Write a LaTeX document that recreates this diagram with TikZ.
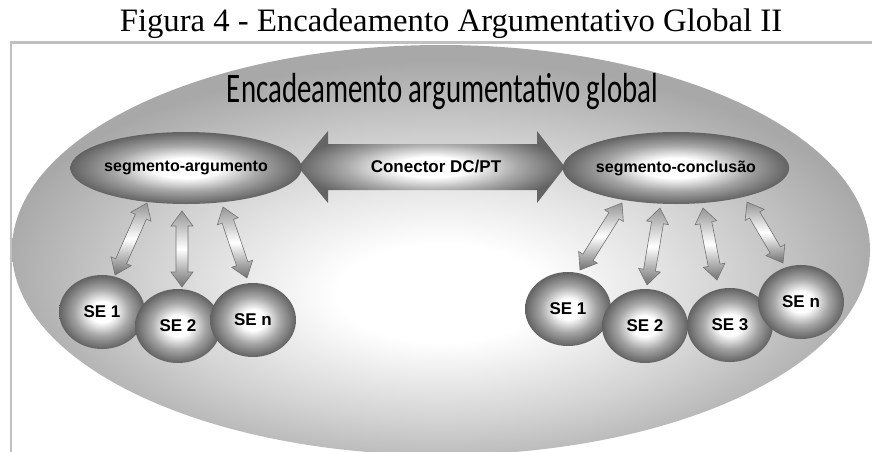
\documentclass[tikz,border=0pt]{standalone}
\usepackage{fontspec}
\setmainfont{Liberation Serif}
\newfontfamily\lsans{Liberation Sans}
\newfontfamily\carl{Carlito}
\usetikzlibrary{calc,shapes.geometric}
\definecolor{framegray}{RGB}{192,192,192}
\definecolor{bigedge}{RGB}{168,168,168}
\definecolor{bigmid}{RGB}{210,210,210}
\definecolor{sphedge}{RGB}{98,98,98}
\definecolor{sphmid}{RGB}{165,165,165}
\definecolor{connedge}{RGB}{100,100,100}
\definecolor{connmid}{RGB}{170,170,170}
\definecolor{arrdark}{RGB}{112,112,112}
\definecolor{arrlight}{RGB}{150,150,150}
\definecolor{arrline}{RGB}{115,115,115}
\pgfdeclareradialshading{bigshade}{\pgfpoint{0bp}{-6bp}}{color(0bp)=(white); color(6bp)=(white); color(17bp)=(bigmid); color(26bp)=(bigedge); color(50bp)=(bigedge)}
\pgfdeclareradialshading{sphere}{\pgfpoint{0bp}{0bp}}{color(0bp)=(white); color(7bp)=(white); color(16bp)=(sphmid); color(25bp)=(sphedge); color(50bp)=(sphedge)}
\pgfdeclareradialshading{connshade}{\pgfpoint{0bp}{0bp}}{color(0bp)=(white); color(7bp)=(white); color(16bp)=(connmid); color(25bp)=(connedge); color(50bp)=(connedge)}
\tikzset{
  sphnode/.style={ellipse, shade, shading=sphere, minimum width=86pt, minimum height=74pt, inner sep=0pt,
    font=\lsans\bfseries\fontsize{17}{20}\selectfont},
  segnode/.style={ellipse, shade, shading=sphere, minimum width=206pt, minimum height=72pt, inner sep=0pt,
    font=\lsans\bfseries\fontsize{16}{19}\selectfont},
  smallarrow/.style={draw=arrline, line width=0.6pt, top color=arrlight, bottom color=arrdark, middle color=white},
  connarrow/.style={shade, shading=connshade},
  dblarr/.pic={
    \pgfmathsetmacro\arrL{#1}
    \path[smallarrow] (0,0) -- (15,11) -- (15,6) -- (\arrL-15,6) -- (\arrL-15,11) -- (\arrL,0)
      -- (\arrL-15,-11) -- (\arrL-15,-6) -- (15,-6) -- (15,-11) -- cycle;
  }
}
\newcommand\linkarrow[2]{\path let \p1=(#1), \p2=(#2), \n1={atan2(\y2-\y1,\x2-\x1)},
  \n2={veclen(\x2-\x1,\y2-\y1)} in (#1) pic[rotate=\n1] {dblarr=\n2};}
\begin{document}
\begin{tikzpicture}[x=1pt,y=1pt]
\useasboundingbox (0,0) rectangle (872,-452);
\draw[framegray, line width=2.2pt] (11,-452) -- (11,-42.5) -- (872,-42.5);
\node[ellipse, shade, shading=bigshade, minimum width=858pt, minimum height=410pt, inner sep=0pt] (outer) at (441,-250) {};
\node[anchor=base, inner sep=0pt, font=\fontsize{32.7}{36}\selectfont] (caption) at (451,-32) {Figura 4 - Encadeamento Argumentativo Global II};
\node[anchor=base, inner sep=0pt] (maintitle) at (442.5,-102) {\resizebox{431pt}{1.45\height}{\carl\fontsize{29}{32}\selectfont Encadeamento argumentativo global}};
% connector
\coordinate (ca) at (298,-167);
\coordinate (cb) at (565,-167);
\path[connarrow] (ca) -- ++(30,36) -- ++(0,-13) -- ($(cb)+(-28,23)$) -- ++(0,13) -- (cb)
  -- ++(-28,-36) -- ++(0,13) -- ($(ca)+(30,-23)$) -- ++(0,-13) -- cycle;
\node[font=\lsans\bfseries\fontsize{17}{20}\selectfont] (conlabel) at (436,-167) {Conector DC/PT};
% segments
\node[segnode] (sa) at (186,-168) {segmento-argumento};
\node[segnode] (sc) at (676,-168) {segmento-conclusão};
% spheres left
\node[sphnode] (l1) at (102,-312) {SE 1};
\node[sphnode] (l2) at (178,-326) {SE 2};
\node[sphnode] (ln) at (253,-320) {SE n};
% spheres right
\node[sphnode] (r1) at (568,-309) {SE 1};
\node[sphnode] (r2) at (645,-326) {SE 2};
\node[sphnode] (r3) at (730,-325) {SE 3};
\node[sphnode] (rn) at (801,-302) {SE n};
% arrow end points
\coordinate (la1t) at (147,-203); \coordinate (la1b) at (115,-275);
\coordinate (la2t) at (182,-211); \coordinate (la2b) at (182,-287);
\coordinate (la3t) at (223,-207); \coordinate (la3b) at (247,-278);
\coordinate (ra1t) at (622,-203); \coordinate (ra1b) at (580,-270);
\coordinate (ra2t) at (660,-208); \coordinate (ra2b) at (647,-285);
\coordinate (ra3t) at (703,-208); \coordinate (ra3b) at (717,-280);
\coordinate (ra4t) at (747,-202); \coordinate (ra4b) at (783,-263);
\linkarrow{la1t}{la1b}
\linkarrow{la2t}{la2b}
\linkarrow{la3t}{la3b}
\linkarrow{ra1t}{ra1b}
\linkarrow{ra2t}{ra2b}
\linkarrow{ra3t}{ra3b}
\linkarrow{ra4t}{ra4b}
\end{tikzpicture}
\end{document}
